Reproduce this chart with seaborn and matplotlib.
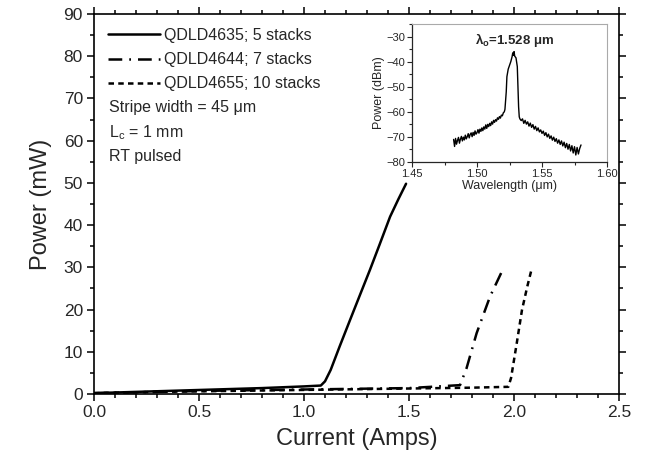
import numpy as np
import pandas as pd
import matplotlib
matplotlib.use("Agg")
import matplotlib.pyplot as plt
from matplotlib.ticker import MultipleLocator, FormatStrFormatter
import seaborn as sns

# ---------------- data ----------------
cur_4635 = [0.0, 0.2, 0.4, 0.6, 0.8, 1.0, 1.08, 1.10, 1.127, 1.17, 1.219, 1.27, 1.314, 1.36, 1.41, 1.45, 1.486]
pow_4635 = [0.2, 0.5, 0.8, 1.1, 1.4, 1.8, 2.0, 3.0, 5.7, 11.3, 17.5, 23.9, 29.4, 35.4, 42.0, 46.2, 49.8]

cur_4644 = [0.0, 0.3, 0.6, 0.9, 1.2, 1.5, 1.743, 1.774, 1.822, 1.886, 1.944]
pow_4644 = [0.2, 0.5, 0.8, 1.0, 1.2, 1.4, 2.1, 6.1, 14.4, 23.1, 29.2]

cur_4655 = [0.0, 0.3, 0.6, 0.9, 1.2, 1.5, 1.8, 1.973, 1.986, 2.013, 2.038, 2.063, 2.084]
pow_4655 = [0.2, 0.5, 0.7, 0.9, 1.1, 1.3, 1.5, 1.7, 3.8, 12.0, 19.9, 25.4, 29.6]

labels = ["QDLD4635; 5 stacks", "QDLD4644; 7 stacks", "QDLD4655; 10 stacks"]

wl_left = [1.48200, 1.48275, 1.48350, 1.48425, 1.48500, 1.48575, 1.48650, 1.48725, 1.48800, 1.48875,
           1.48950, 1.49025, 1.49100, 1.49175, 1.49250, 1.49325, 1.49400, 1.49475, 1.49550, 1.49625,
           1.49700, 1.49775, 1.49850, 1.49925, 1.50000, 1.50075, 1.50150, 1.50225, 1.50300, 1.50375,
           1.50450, 1.50525, 1.50600, 1.50675, 1.50750, 1.50825, 1.50900, 1.50975, 1.51050, 1.51125,
           1.51200, 1.51275, 1.51350, 1.51425, 1.51500, 1.51575, 1.51650, 1.51725, 1.51800, 1.51875,
           1.51950, 1.52025, 1.52100]
dbm_left = [-71.0, -73.8, -70.6, -72.9, -71.4, -70.2, -72.5, -70.9, -69.8, -71.6,
            -70.1, -71.2, -69.3, -70.8, -69.9, -68.7, -70.4, -69.0, -68.4, -69.9,
            -68.2, -69.4, -67.6, -68.9, -68.3, -67.1, -68.5, -66.9, -67.8, -66.4,
            -67.5, -66.0, -66.9, -65.2, -66.6, -65.0, -65.9, -64.6, -65.5, -64.0,
            -64.9, -63.4, -64.2, -63.1, -63.7, -62.4, -63.0, -61.9, -62.5, -61.3,
            -61.6, -60.4, -60.0]

wl_peak = [1.5215, 1.5225, 1.523, 1.524, 1.525, 1.526, 1.527, 1.5275, 1.528, 1.5285, 1.529,
           1.530, 1.531, 1.5315, 1.532, 1.5325, 1.533]
dbm_peak = [-59.0, -52.0, -46.0, -43.0, -41.5, -40.0, -38.0, -36.5, -37.5, -36.0, -37.8,
            -38.5, -42.0, -50.0, -58.0, -62.0, -62.8]

wl_right = [1.534, 1.535, 1.536, 1.537, 1.538, 1.539, 1.540, 1.541, 1.542, 1.543, 1.544, 1.545,
            1.546, 1.547, 1.548, 1.549, 1.550, 1.551, 1.552, 1.553, 1.554, 1.555, 1.556, 1.557,
            1.558, 1.559, 1.560, 1.561, 1.562, 1.563, 1.564, 1.565, 1.566, 1.567, 1.568, 1.569,
            1.570, 1.571, 1.572, 1.573, 1.574, 1.575, 1.576, 1.577, 1.578, 1.579, 1.580]
dbm_right = [-63.5, -62.8, -64.6, -63.4, -64.9, -64.0, -65.7, -64.5, -66.2, -65.1, -66.9, -65.8,
             -67.5, -66.4, -68.0, -67.2, -68.6, -67.7, -69.4, -68.3, -70.0, -68.9, -70.6, -69.6,
             -71.3, -70.1, -71.8, -70.7, -72.5, -71.2, -73.0, -71.6, -73.6, -72.1, -74.3, -72.6,
             -74.9, -73.0, -75.6, -73.5, -76.4, -73.9, -77.2, -74.2, -76.8, -74.6, -73.2]

# ---------------- style ----------------
sns.set_style("ticks")
plt.rcParams["font.family"] = ["Liberation Sans", "DejaVu Sans"]
plt.rcParams["mathtext.fontset"] = "custom"
plt.rcParams["mathtext.rm"] = "Liberation Sans"
plt.rcParams["mathtext.it"] = "Liberation Sans:italic"
plt.rcParams["mathtext.bf"] = "Liberation Sans:bold"

fig = plt.figure(figsize=(6.5, 4.65), dpi=100)
ax = fig.add_axes([94 / 650, 71 / 465, 525 / 650, 380 / 465])

df1 = pd.DataFrame({"x": cur_4635, "y": pow_4635})
df2 = pd.DataFrame({"x": cur_4644, "y": pow_4644})
df3 = pd.DataFrame({"x": cur_4655, "y": pow_4655})

sns.lineplot(data=df1, x="x", y="y", ax=ax, color="black", lw=1.8,
             estimator=None, sort=False, label=labels[0])
sns.lineplot(data=df2, x="x", y="y", ax=ax, color="black", lw=1.8,
             linestyle=(0, (5.5, 2.8, 0.7, 2.8)), estimator=None, sort=False, label=labels[1])
sns.lineplot(data=df3, x="x", y="y", ax=ax, color="black", lw=1.8,
             linestyle=(0, (2.2, 1.7)), estimator=None, sort=False, label=labels[2])

ax.set_xlim(0, 2.5)
ax.set_ylim(0, 90)
ax.xaxis.set_major_locator(MultipleLocator(0.5))
ax.xaxis.set_minor_locator(MultipleLocator(0.1))
ax.yaxis.set_major_locator(MultipleLocator(10))
ax.yaxis.set_minor_locator(MultipleLocator(5))
ax.xaxis.set_major_formatter(FormatStrFormatter("%.1f"))
ax.tick_params(which="both", direction="out", top=True, right=True, labeltop=False,
               labelright=False, color="black", width=1.1)
ax.tick_params(which="major", length=5, labelsize=12.5, pad=3)
ax.tick_params(which="minor", length=3)
for s in ax.spines.values():
    s.set_linewidth(1.2)
    s.set_color("black")
ax.set_xlabel("Current (Amps)", fontsize=17, labelpad=6)
ax.set_ylabel("Power (mW)", fontsize=17, labelpad=8)

leg = ax.legend(loc="upper left", bbox_to_anchor=(0.026, 0.963), frameon=False,
                fontsize=11.5, handlelength=3.3, handletextpad=0.2, labelspacing=0.57,
                borderaxespad=0, borderpad=0)
for t in [("Stripe width = 45 μm", 0.753), (r"L$_\mathregular{c}$ = 1 mm", 0.689), ("RT pulsed", 0.626)]:
    ax.text(0.029, t[1], t[0], transform=ax.transAxes, fontsize=11.5, va="center", ha="left")

# ---------------- inset ----------------
ins = fig.add_axes([412 / 650, (465 - 162) / 465, 195 / 650, 138 / 465])
dfs = pd.DataFrame({"wl": wl_left + wl_peak + wl_right, "p": dbm_left + dbm_peak + dbm_right})
sns.lineplot(data=dfs, x="wl", y="p", ax=ins, color="black", lw=1.0, estimator=None, sort=False)
ins.set_xlim(1.45, 1.60)
ins.set_ylim(-80, -25)
ins.xaxis.set_major_locator(MultipleLocator(0.05))
ins.xaxis.set_minor_locator(MultipleLocator(0.025))
ins.yaxis.set_major_locator(MultipleLocator(10))
ins.yaxis.set_minor_locator(MultipleLocator(5))
ins.xaxis.set_major_formatter(FormatStrFormatter("%.2f"))
ins.tick_params(which="both", direction="out", labelsize=8, width=0.8, pad=1.5)
ins.tick_params(which="major", length=3.5)
ins.tick_params(which="minor", length=2)
ins.spines["top"].set_color("#aaaaaa")
ins.spines["right"].set_color("#aaaaaa")
ins.spines["top"].set_linewidth(0.8)
ins.spines["right"].set_linewidth(0.8)
ins.spines["left"].set_linewidth(0.9)
ins.spines["bottom"].set_linewidth(0.9)
ins.set_xlabel("Wavelength (μm)", fontsize=9, labelpad=1)
ins.set_ylabel("Power (dBm)", fontsize=9, labelpad=1)
ins.text(1.5285, -31.5, r"λ$_\mathregular{o}$=1.528 μm", fontsize=9.5, fontweight="bold",
         ha="center", va="center")

fig.savefig("out.png", dpi=100)
